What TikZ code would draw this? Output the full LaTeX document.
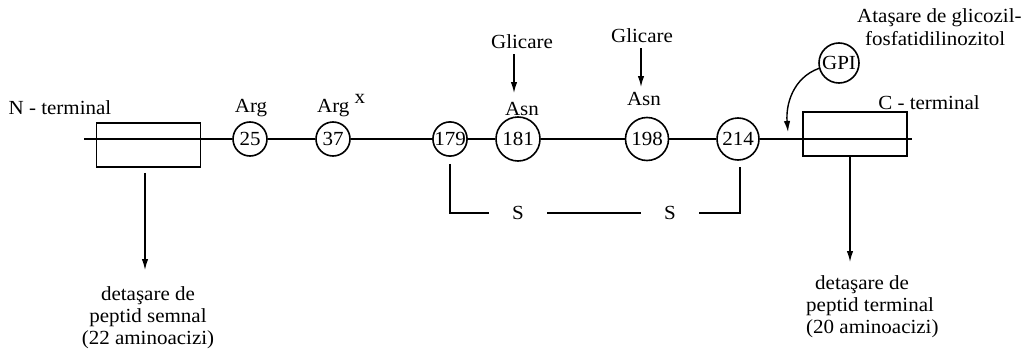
\documentclass[tikz,border=0pt]{standalone}
\usepackage{fontspec}
\setmainfont{Liberation Serif}[FakeStretch=1.05]
\usetikzlibrary{arrows.meta}
\begin{document}
\begin{tikzpicture}[x=1pt,y=-1pt,
  every node/.style={font=\fontsize{20}{22}\selectfont, inner sep=0pt},
  ln/.style={line width=1.4pt},
  arr/.style={line width=1.4pt, -{Latex[length=11pt,width=6.5pt]}},
  res/.style={draw, circle, line width=1.6pt, fill=white, inner sep=0pt},
  pbox/.style={draw, rectangle, line width=1.5pt, minimum width=104pt, minimum height=44pt},
  lbl/.style={anchor=base},
  sbond/.style={inner xsep=23pt}]
\useasboundingbox (0,0) rectangle (1031,356);

% peptide segments cut off at both ends
\node[pbox] (lbox) at (148.5,145) {};
\node[pbox] (rbox) at (855,134) {};

% residues along the chain
\node[res, minimum size=34pt] (c25)  at (250,139) {25};
\node[res, minimum size=34pt] (c37)  at (333,139) {37};
\node[res, minimum size=34pt] (c179) at (450,139) {179};
\node[res, minimum size=44pt] (c181) at (518,139) {181};
\node[res, minimum size=43pt] (c198) at (647,139) {198};
\node[res, minimum size=42pt] (c214) at (738,139) {214};

\coordinate (nend) at (84,139);
\coordinate (cend) at (912,139);

% backbone
\draw[ln] (nend) -- (c25.west);
\draw[ln] (c25) -- (c37);
\draw[ln] (c37) -- (c179);
\draw[ln] (c179) -- (c181);
\draw[ln] (c181) -- (c198);
\draw[ln] (c198) -- (c214);
\draw[ln] (c214.east) -- (cend);

% terminal labels
\node[lbl] (nterm) at (60,114) {N - terminal};
\node[lbl] (cterm) at (929,109) {C - terminal};

% residue labels
\node[lbl] (arg1) at (251,112) {Arg};
\node[lbl, anchor=base west] (arg2) at (317,112) {Arg \raisebox{9pt}{x}};
\node[lbl] (asn1) at (522,115) {Asn};
\node[lbl] (asn2) at (644,105) {Asn};

% glycosylation sites
\node[lbl] (gl1) at (522,48) {Glicare};
\node[lbl] (gl2) at (642,42) {Glicare};
\coordinate (gl1tip) at (514,93);
\coordinate (gl2tip) at (641,87);
\draw[arr] (gl1.south -| gl1tip) ++(0,6) -- (gl1tip);
\draw[arr] (gl2.south -| gl2tip) ++(0,6) -- (gl2tip);

% disulfide bridge 179-214
\node (s1) [sbond] at (518,213) {S};
\node (s2) [sbond] at (670,213) {S};
\draw[ln, shorten <=7pt] (c179.south) |- (s1.west);
\draw[ln] (s1.east) -- (s2.west);
\draw[ln, shorten <=6pt] (c214.south -| 740,0) |- (s2.east);

% GPI anchor
\node[res, minimum size=40pt] (gpi) at (839,63) {GPI};
\node[lbl, anchor=base west] (gpit1) at (857,23) {Ataşare de glicozil-};
\node[lbl, anchor=base west] (gpit2) at (865,45) {fosfatidilinozitol};
\coordinate (gpitip) at (788,132);
\draw[arr] (gpi.195) to[out=200,in=95] (gpitip);

% cleaved peptides (base anchor = baseline of the last line)
\coordinate (ltip) at (145,270);
\coordinate (rtip) at (850,262);
\draw[arr, shorten <=5pt] (lbox.south -| ltip) -- (ltip);
\draw[arr] (rbox.south -| rtip) -- (rtip);
\node[anchor=base, align=center] (sig) at (148,344)
  {detaşare de\\peptid semnal\\(22 aminoacizi)};
\node[anchor=base west, align=left] (term) at (806,333)
  {\hspace*{9pt}detaşare de\\peptid terminal\\(20 aminoacizi)};
\end{tikzpicture}
\end{document}
